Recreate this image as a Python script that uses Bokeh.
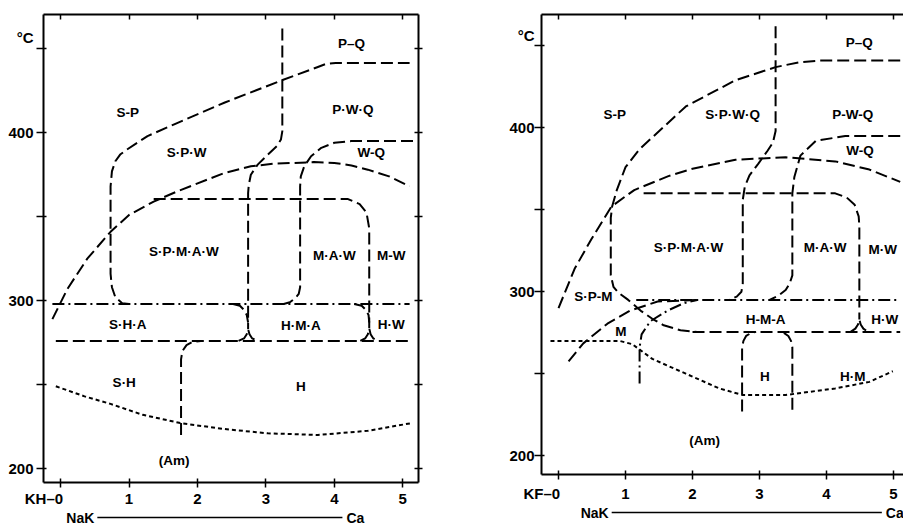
from bokeh.plotting import figure
from bokeh.models import LinearAxis, FixedTicker, Range1d
from bokeh.layouts import row, column
from bokeh.embed import file_html
from bokeh.resources import INLINE
from bokeh.core.properties import value

FONT = "Liberation Sans"

# ---------------- shared axis data ----------------
x_ticks = [0, 1, 2, 3, 4, 5]
y_ticks = [200, 250, 300, 350, 400, 450]
y_label_ticks_L = [200, 300, 400, 457]
y_label_ticks_R = [200, 300, 400, 456]
FS = "\u2007"
x_tick_labels_L = {0: "KH\u20130" + FS * 4}
x_tick_labels_R = {0: "KF\u20130" + FS * 4}
y_tick_labels_L = {457: "\u00b0C"}
y_tick_labels_R = {456: "\u00b0C"}

# ---------------- left panel (KH) ----------------
LA_x = [1.00, 0.90, 0.80, 0.75, 0.73, 0.73, 0.75, 0.80, 0.87, 0.97, 1.27, 1.66, 2.40, 3.22, 3.75, 3.88, 4.02, 5.10]
LA_y = [298, 298.5, 302, 308, 316, 368, 377, 383, 387, 390, 398, 405, 418, 431, 439, 441, 441.5, 441.5]

LB_x = [-0.12, 0.10, 0.39, 0.73, 1.00, 1.36, 1.70, 1.95, 2.39, 2.78, 3.10, 3.41, 3.70, 4.00, 4.25, 4.49, 4.80, 5.10]
LB_y = [289, 307, 325, 341, 351, 359, 365, 369, 376, 380, 381.5, 382, 382.5, 382, 380.5, 378, 374, 368]

LC_x = [3.24, 3.24, 3.22, 3.16, 3.03, 2.88, 2.78, 2.75, 2.74, 2.74]
LC_y = [462, 401, 396, 392, 387, 381, 375, 369, 364, 283]

LC_hook_x = [2.52, 2.62, 2.68, 2.72, 2.74]
LC_hook_y = [298, 297, 294.5, 291.5, 287]

L_cusp1_x = [2.60, 2.68, 2.72, 2.74, 2.76, 2.80, 2.88]
L_cusp1_y = [276, 277.5, 280, 283, 280, 277.5, 276]

LD_x = [5.15, 4.25, 4.00, 3.81, 3.66, 3.56, 3.51, 3.50, 3.50, 3.48, 3.43, 3.35, 3.26]
LD_y = [395, 395, 394, 391, 386, 380, 374, 368, 308, 304, 301.5, 299, 298]

LE_x = [1.36, 4.20, 4.37, 4.47, 4.51, 4.51]
LE_y = [360.5, 360.5, 357.5, 352.5, 343, 283.5]

LE_hook_x = [4.29, 4.40, 4.46, 4.50, 4.51]
LE_hook_y = [298, 297, 294.5, 291.5, 287]

L_cusp2_x = [4.38, 4.45, 4.49, 4.51, 4.53, 4.57, 4.64]
L_cusp2_y = [276, 277.5, 280, 283.5, 280, 277.5, 276]

L_dashdot_x = [-0.12, 5.10]
L_dashdot_y = [298, 298]

L_lowdash_x = [-0.07, 5.10]
L_lowdash_y = [276, 276]

L_am_x = [1.76, 1.76, 1.78, 1.84, 1.93, 2.05]
L_am_y = [220, 265, 270, 273.5, 275.5, 276]

L_dot_x = [-0.07, 0.35, 0.73, 1.20, 1.76, 2.40, 3.03, 3.76, 4.49, 5.12]
L_dot_y = [249, 243, 238.5, 232, 227, 223.5, 221, 220, 222.5, 227]

L_lab_text = ["P\u2013Q", "S-P", "P\u00b7W\u00b7Q", "S\u00b7P\u00b7W", "W-Q", "S\u00b7P\u00b7M\u00b7A\u00b7W", "M\u00b7A\u00b7W",
              "M-W", "S\u00b7H\u00b7A", "H\u00b7M\u00b7A", "H\u00b7W", "S\u00b7H", "H", "(Am)"]
L_lab_x = [4.25, 0.98, 4.27, 1.84, 4.54, 1.80, 4.00, 4.83, 0.98, 3.51, 4.83, 0.93, 3.51, 1.66]
L_lab_y = [453, 412, 414, 388, 388, 329, 327, 327, 286, 285, 286, 251, 249, 205]

L_nak_line_x = [0.15, 4.83]
L_nak_text = ["NaK", "Ca"]

# ---------------- right panel (KF) ----------------
RA_x = [5.10, 3.90, 3.60, 3.24, 2.64, 1.90, 1.21, 1.00, 0.87, 0.80, 0.78, 0.78, 0.82, 0.89, 1.04, 1.24, 1.40, 1.57, 1.82, 2.07]
RA_y = [441, 441, 440, 437, 429, 413, 387, 376, 362, 352, 345, 310, 303, 299.5, 295, 288, 283.5, 279.5, 276.5, 275.5]

RB_x = [0.00, 0.24, 0.49, 0.79, 1.13, 1.64, 2.00, 2.64, 3.39, 4.13, 4.64, 5.10]
RB_y = [290, 314, 332, 352, 362, 370.5, 375, 380.5, 382, 379.5, 374.5, 367]

RC_x = [3.24, 3.24, 3.20, 3.12, 2.98, 2.85, 2.78, 2.75, 2.75, 2.73, 2.66, 2.55]
RC_y = [462, 398, 391, 386, 378, 371, 364, 356, 305, 300, 297, 295]

RD_x = [5.10, 4.28, 3.84, 3.61, 3.52, 3.49, 3.49, 3.45, 3.39, 3.28, 3.15]
RD_y = [395, 395, 392, 383, 370, 360, 310, 305, 301, 297.5, 295]

RE_x = [1.27, 4.13, 4.30, 4.42, 4.48, 4.49, 4.49]
RE_y = [360, 360, 357.5, 353, 346, 340, 283]

R_cusp_x = [4.36, 4.43, 4.47, 4.49, 4.51, 4.55, 4.62]
R_cusp_y = [275.5, 277.5, 280, 283, 280, 277.5, 275.5]

R_dashdot_x = [1.16, 5.10]
R_dashdot_y = [295, 295]

R_lowdash_x = [2.00, 5.10]
R_lowdash_y = [275.5, 275.5]

R_h1_x = [2.74, 2.74, 2.76, 2.80, 2.88, 2.95]
R_h1_y = [227, 266, 270, 273, 275, 275.5]

R_h2_x = [3.49, 3.49, 3.47, 3.43, 3.36, 3.28]
R_h2_y = [228, 266, 270, 273, 275, 275.5]

R_dd_curve_x = [1.21, 1.21, 1.24, 1.37, 1.63, 1.87, 2.07]
R_dd_curve_y = [244, 266, 274, 282, 288.5, 293, 295]

R_m_curve_x = [0.15, 0.37, 0.73, 1.07, 1.48, 2.07]
R_m_curve_y = [257.5, 268.5, 280.5, 288.5, 294, 295]

R_dot_x = [-0.12, 0.91, 1.10, 1.40, 1.90, 2.40, 2.75, 3.39, 4.13, 4.64, 4.99]
R_dot_y = [270, 270, 268, 259, 250, 241, 237, 237, 241, 245, 251.5]

R_lab_text = ["P\u2013Q", "S-P", "S\u00b7P\u00b7W\u00b7Q", "P-W-Q", "W-Q", "S\u00b7P\u00b7M\u00b7A\u00b7W", "M\u00b7A\u00b7W",
              "M\u00b7W", "S\u00b7P-M", "M", "H-M-A", "H\u00b7W", "H", "H\u00b7M", "(Am)"]
R_lab_x = [4.49, 0.84, 2.60, 4.39, 4.50, 1.94, 3.98, 4.84, 0.52, 0.93, 3.09, 4.87, 3.08, 4.39, 2.18]
R_lab_y = [452, 408, 408, 408, 386, 327, 327, 326, 297, 276, 283, 283, 248.5, 248.5, 209]

R_nak_line_x = [0.18, 4.78]
R_nak_text = ["NaK", "Ca"]

DASH = "12 5"
DASHDOT = "12 4 2 4"
DOT = "4 3"
LW = 2


def marks_axis(tick_list, tin, tout):
    return LinearAxis(ticker=FixedTicker(ticks=tick_list), major_tick_in=tin, major_tick_out=tout,
                      minor_tick_in=0, minor_tick_out=0, minor_tick_line_color=None,
                      major_label_text_font_size="0px", major_label_text_color=None,
                      major_label_standoff=0, axis_label=None,
                      axis_line_width=2, axis_line_color="black",
                      major_tick_line_width=1.5, major_tick_line_color="black")


def make_panel(width, height, borders, xr, yr, y_lab_ticks, y_lab_over, x_lab_over, tick_out_left,
               x_standoff, y_standoff):
    p = figure(width=width, height=height, output_backend="svg", toolbar_location=None,
               x_range=Range1d(*xr), y_range=Range1d(*yr),
               min_border_left=borders[0], min_border_right=borders[1],
               min_border_top=borders[2], min_border_bottom=borders[3])
    p.title.visible = False
    p.outline_line_color = None
    p.xgrid.visible = False
    p.ygrid.visible = False
    p.background_fill_color = "white"
    p.border_fill_color = "white"
    # bottom axis: marks and labels
    xa = p.xaxis[0]
    xa.ticker = FixedTicker(ticks=x_ticks)
    xa.major_label_overrides = x_lab_over
    xa.axis_line_width = 2
    xa.major_tick_line_width = 1.5
    xa.major_tick_in = 4
    xa.major_tick_out = 5
    xa.minor_tick_in = 0
    xa.minor_tick_out = 0
    xa.minor_tick_line_color = None
    xa.major_label_standoff = x_standoff
    xa.major_label_text_font = FONT
    xa.major_label_text_font_style = "bold"
    xa.major_label_text_font_size = "15px"
    xa.major_label_text_color = "black"
    xa.axis_label = None
    # left axis nearest the frame: tick marks only
    ya = p.yaxis[0]
    ya.ticker = FixedTicker(ticks=y_ticks)
    ya.axis_line_width = 2
    ya.major_tick_line_width = 1.5
    ya.major_tick_in = 3
    ya.major_tick_out = tick_out_left
    ya.minor_tick_in = 0
    ya.minor_tick_out = 0
    ya.minor_tick_line_color = None
    ya.major_label_text_font_size = "0px"
    ya.major_label_text_color = None
    ya.major_label_standoff = 0
    ya.axis_label = None
    # outer left axis: the labels only
    yl = LinearAxis(ticker=FixedTicker(ticks=y_lab_ticks), major_label_overrides=y_lab_over,
                    major_tick_in=0, major_tick_out=0, minor_tick_in=0, minor_tick_out=0,
                    major_tick_line_color=None, minor_tick_line_color=None, axis_line_color=None,
                    major_label_standoff=y_standoff, axis_label=None,
                    major_label_text_font=FONT, major_label_text_font_style="bold",
                    major_label_text_font_size="15px", major_label_text_color="black")
    p.add_layout(yl, "left")
    p.add_layout(marks_axis(x_ticks, 5, 0), "above")
    return p


def draw(p, xs, ys, dash):
    p.line(xs, ys, line_color="black", line_width=LW, line_dash=dash, line_cap="butt", line_join="round")


def add_text(p, xs, ys, texts):
    p.text(x=xs, y=ys, text=texts, text_font=value(FONT), text_font_style="bold",
           text_font_size="13.5px", text_align="center", text_baseline="middle", text_color="black")


def strip(width, xr, line_x, texts):
    q = figure(width=width, height=16, output_backend="svg", toolbar_location=None,
               x_range=Range1d(*xr), y_range=Range1d(0, 1), x_axis_type=None, y_axis_type=None,
               min_border_left=0, min_border_right=0, min_border_top=0, min_border_bottom=0)
    q.title.visible = False
    q.outline_line_color = None
    q.background_fill_color = "white"
    q.border_fill_color = "white"
    q.line(line_x, [0.5, 0.5], line_color="black", line_width=1.5)
    q.text(x=[line_x[0]], y=[0.5], text=[texts[0]], x_offset=-3, text_align="right", text_baseline="middle",
           text_font=value(FONT), text_font_style="bold", text_font_size="14px", text_color="black")
    q.text(x=[line_x[1]], y=[0.5], text=[texts[1]], x_offset=4, text_align="left", text_baseline="middle",
           text_font=value(FONT), text_font_style="bold", text_font_size="14px", text_color="black")
    return q


# ---------- left figure ----------
pL = make_panel(490, 509, (43, 72, 14, 24), (-0.25, 5.23), (191.7, 470.4),
                y_label_ticks_L, y_tick_labels_L, x_tick_labels_L, 7, 2, 3)
pL.add_layout(marks_axis(y_ticks, 4, 4), "right")

for xs, ys in [(LA_x, LA_y), (LB_x, LB_y), (LC_x, LC_y), (LC_hook_x, LC_hook_y), (L_cusp1_x, L_cusp1_y),
               (LD_x, LD_y), (LE_x, LE_y), (LE_hook_x, LE_hook_y), (L_cusp2_x, L_cusp2_y),
               (L_lowdash_x, L_lowdash_y), (L_am_x, L_am_y)]:
    draw(pL, xs, ys, DASH)
draw(pL, L_dashdot_x, L_dashdot_y, DASHDOT)
draw(pL, L_dot_x, L_dot_y, DOT)
add_text(pL, L_lab_x, L_lab_y, L_lab_text)

qL = strip(490, (-0.878, 6.283), L_nak_line_x, L_nak_text)

# ---------- right figure ----------
pR = make_panel(413, 504, (51, 0, 14, 27), (-0.254, 5.149), (188.5, 469.1),
                y_label_ticks_R, y_tick_labels_R, x_tick_labels_R, 7, 5, 0)

for xs, ys in [(RA_x, RA_y), (RB_x, RB_y), (RC_x, RC_y), (RD_x, RD_y), (RE_x, RE_y), (R_cusp_x, R_cusp_y),
               (R_lowdash_x, R_lowdash_y), (R_h1_x, R_h1_y), (R_h2_x, R_h2_y), (R_m_curve_x, R_m_curve_y)]:
    draw(pR, xs, ys, DASH)
draw(pR, R_dashdot_x, R_dashdot_y, DASHDOT)
draw(pR, R_dd_curve_x, R_dd_curve_y, DASHDOT)
draw(pR, R_dot_x, R_dot_y, DOT)
add_text(pR, R_lab_x, R_lab_y, R_lab_text)

qR = strip(413, (-1.015, 5.149), R_nak_line_x, R_nak_text)

layout = row(column(pL, qL), column(pR, qR))
open("out.html", "w").write(file_html(layout, INLINE))
